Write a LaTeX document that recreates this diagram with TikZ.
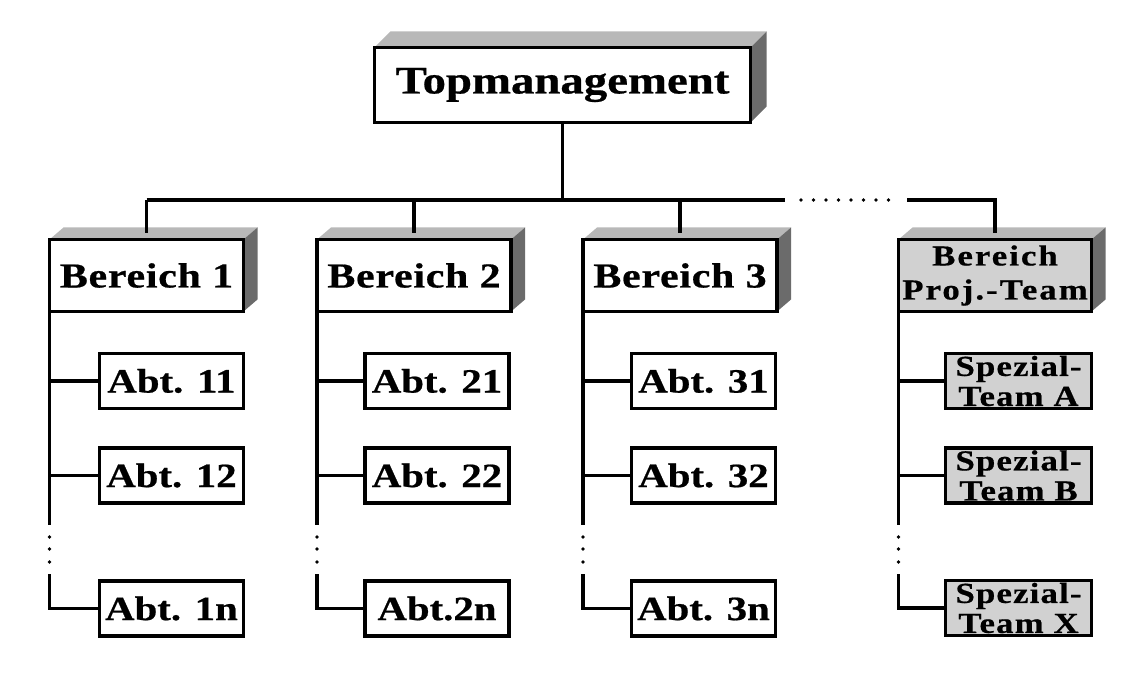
\documentclass[tikz,border=0pt]{standalone}
\usepackage{fontspec}
\newfontfamily\bx{Liberation Serif}[FakeStretch=1.2,FakeBold=0.6]
\usetikzlibrary{calc,backgrounds}
\newcommand\boxfont[3]{\bx\bfseries\fontsize{#1}{#2}\selectfont\addfontfeatures{LetterSpace=#3}}
\definecolor{topgray}{gray}{0.72}
\definecolor{sidegray}{gray}{0.42}
\definecolor{boxgray}{gray}{0.82}
\newcommand\depthfaces[3]{%
  \begin{scope}[on background layer]
    \fill[topgray] (#1.north west) -- ++(#2,#3) -- ($(#1.north east)+(#2,#3)$) -- (#1.north east) -- cycle;
    \fill[sidegray] (#1.north east) -- ++(#2,#3) -- ($(#1.south east)+(#2,#3)$) -- (#1.south east) -- cycle;
  \end{scope}}
\tikzset{
  box/.style={draw=black, line width=3.4pt, fill=white, inner sep=0pt, outer sep=0pt, align=center},
  gbox/.style={box, fill=boxgray},
  topbox/.style={box, minimum width=376pt, minimum height=75pt, font=\boxfont{39}{40}{0}},
  bbox/.style={box, minimum width=194pt, minimum height=72pt, font=\boxfont{35}{36}{2}},
  abox/.style={box, minimum width=144pt, minimum height=55pt, font=\boxfont{34}{36}{0}},
  pbox/.style={gbox, minimum width=193pt, minimum height=72pt, font=\boxfont{29}{34}{7}},
  sbox/.style={gbox, minimum width=146pt, minimum height=55pt, font=\boxfont{29}{30}{4}},
  conn/.style={line width=3.2pt},
  dot/.style={fill=black},
}
\begin{document}
\begin{tikzpicture}[x=1pt,y=1pt]
\useasboundingbox (0,0) rectangle (1145,680);

% nodes
\node[topbox] (top) at (562.5,595) {Topmanagement};
\node[bbox] (b1) at (146.5,404.5) {Bereich 1};
\node[bbox] (b2) at (414,404.5) {Bereich 2};
\node[bbox] (b3) at (680,404.5) {Bereich 3};
\node[pbox] (pt) at (995,404.5) {Bereich\\Proj.-Team};

\node[abox] (a11) at (171.5,299) {Abt. 11};
\node[abox] (a12) at (171.5,204.5) {Abt. 12};
\node[abox] (a1n) at (171.5,71.5) {Abt. 1n};
\node[abox] (a21) at (437,299) {Abt. 21};
\node[abox] (a22) at (437,204.5) {Abt. 22};
\node[abox] (a2n) at (437,71.5) {Abt.2n};
\node[abox] (a31) at (703.5,299) {Abt. 31};
\node[abox] (a32) at (703.5,204.5) {Abt. 32};
\node[abox] (a3n) at (703.5,71.5) {Abt. 3n};
\node[sbox] (sA) at (1018.5,299) {Spezial-\\Team A};
\node[sbox] (sB) at (1018.5,204.5) {Spezial-\\Team B};
\node[sbox] (sX) at (1018.5,72) {Spezial-\\Team X};

% 3D faces
\depthfaces{top}{16}{16}
\depthfaces{b1}{14}{12}
\depthfaces{b2}{14}{12}
\depthfaces{b3}{14}{12}
\depthfaces{pt}{14}{12}

% top level connectors
\coordinate (hy) at (0,480);
\coordinate (hend) at (785,480);
\coordinate (hres) at (907,480);
\draw[conn] (top.south) -- (top.south |- hy);
\draw[conn] (b1.north |- hy) -- (hend);
\foreach \b in {b1,b2,b3} {
  \draw[conn] (\b.north |- hy) -- ($(\b.north)+(0,6)$);
}
\foreach \i in {0,...,7} {
  \fill[dot] ($(hend)+(16+12.5*\i,0)$) circle (1.8pt);
}
\draw[conn] (hres) -- (pt.north |- hy) -- ($(pt.north)+(0,6)$);

% column connectors
\foreach \b/\p/\q/\r in {b1/a11/a12/a1n, b2/a21/a22/a2n, b3/a31/a32/a3n, pt/sA/sB/sX} {
  \draw[conn] (\b.south west) -- (\b.south west |- 0,155);
  \draw[conn] (\b.south west |- \p.west) -- (\p.west);
  \draw[conn] (\b.south west |- \q.west) -- (\q.west);
  \foreach \yy in {143,131,118} {
    \fill[dot] (\b.south west |- 0,\yy) circle (1.8pt);
  }
  \draw[conn] (\b.south west |- 0,106) -- (\b.south west |- \r.west) -- (\r.west);
}
\end{tikzpicture}
\end{document}
